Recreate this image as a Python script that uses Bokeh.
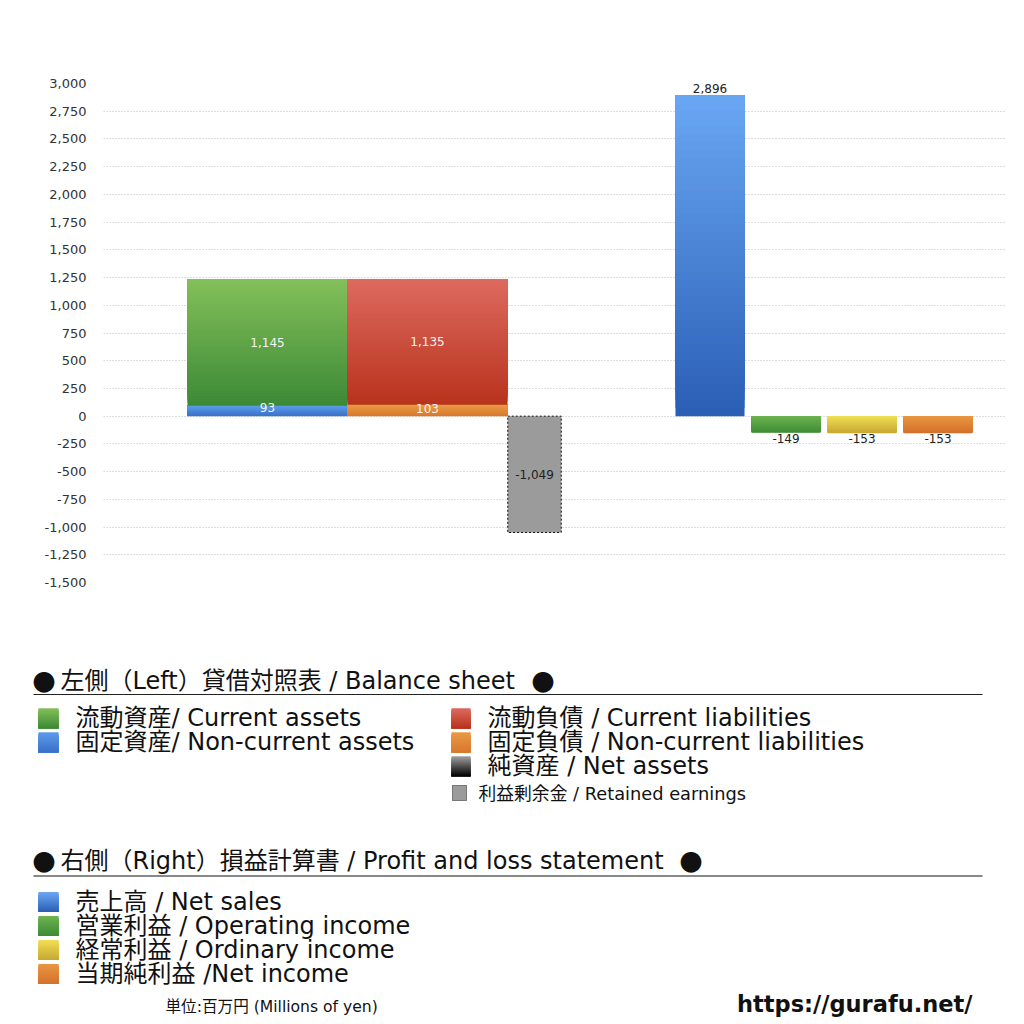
from bokeh.plotting import figure
from bokeh.models import Range1d, FixedTicker, NumeralTickFormatter
from bokeh.core.properties import value
from bokeh.embed import file_html
from bokeh.resources import INLINE

# ---------------- data ----------------
bs_categories = ["流動資産", "固定資産", "流動負債", "固定負債", "利益剰余金"]
current_assets = 1145
noncurrent_assets = 93
current_liabilities = 1135
noncurrent_liabilities = 103
retained_earnings = -1049

pl_categories = ["売上高", "営業利益", "経常利益", "当期純利益"]
pl_values = [2896, -149, -153, -153]

y_ticks = [-1500, -1250, -1000, -750, -500, -250, 0, 250, 500, 750, 1000,
           1250, 1500, 1750, 2000, 2250, 2500, 2750, 3000]

bs_left_labels = ["流動資産/ Current assets", "固定資産/ Non-current assets"]
bs_right_labels = ["流動負債 /  Current liabilities", "固定負債 / Non-current liabilities",
                   "純資産 / Net assets"]
retained_label = "利益剰余金 / Retained earnings"
pl_labels = ["売上高 / Net sales", "営業利益 / Operating income",
             "経常利益 / Ordinary income", "当期純利益 /Net income"]
title_bs = "左側（Left）貸借対照表 / Balance sheet"
title_pl = "右側（Right）損益計算書 / Profit and loss statement"
bullet = "●"
unit_text = "単位:百万円 (Millions of yen)"
url_text = "https://gurafu.net/"

# ---------------- style ----------------
CJK = value("Noto Sans CJK JP")
MIX = value("DejaVu Sans, Noto Sans CJK JP")
G_GREEN = ("#84c05a", "#3c8936")
G_BLUE_S = ("#5c9ce9", "#3a70c8")
G_RED = ("#dd6a5f", "#b8331d")
G_ORANGE_S = ("#e99a44", "#d8782f")
G_SALES = ("#6aa7f3", "#2a5eb5")
G_OP = ("#6db350", "#3d8b36")
G_ORD = ("#f1de56", "#c7a731")
G_NI = ("#e99640", "#d4702c")
G_NET = ("#a0a0a0", "#000000")
GRAY = "#9b9b9b"


def _rgb(h):
    h = h.lstrip("#")
    return tuple(int(h[i:i + 2], 16) for i in (0, 2, 4))


def _mix(c_top, c_bot, f):
    a, b = _rgb(c_top), _rgb(c_bot)
    return "#%02x%02x%02x" % tuple(int(round(b[k] + (a[k] - b[k]) * f)) for k in range(3))


def gradient_quad(p, left, right, y0, y1, grad, n=40, flipped=False):
    lo, hi = min(y0, y1), max(y0, y1)
    c_top, c_bot = grad
    L, R, B, T, C = [], [], [], [], []
    for i in range(n):
        b = lo + (hi - lo) * i / n
        f = (i + 0.5) / n
        L.append(left); R.append(right); B.append(b); T.append(hi)
        C.append(_mix(c_bot, c_top, f) if flipped else _mix(c_top, c_bot, f))
    p.quad(left=L, right=R, bottom=B, top=T, fill_color=C, line_color=None)


# ---------------- chart ----------------
p = figure(width=1016, height=604, output_backend="svg", toolbar_location=None,
           x_range=Range1d(103, 1005), y_range=Range1d(-1500, 3000),
           min_border_left=103, min_border_right=11, min_border_top=83, min_border_bottom=22)
p.outline_line_color = None
p.background_fill_color = "white"
p.border_fill_color = "white"
p.xaxis.visible = False
p.xgrid.grid_line_color = None
p.ygrid.grid_line_color = "#bdbdbd"
p.ygrid.grid_line_dash = "1 2"
p.ygrid.grid_line_width = 1
p.yaxis.ticker = FixedTicker(ticks=y_ticks)
p.yaxis.formatter = NumeralTickFormatter(format="0,0")
p.yaxis.axis_line_color = None
p.yaxis.major_tick_line_color = None
p.yaxis.minor_tick_line_color = None
p.yaxis.major_label_standoff = 11
p.yaxis.major_label_text_font_size = "13px"
p.yaxis.major_label_text_color = "#333333"
p.yaxis.major_label_text_font = "DejaVu Sans"

# layout positions (x centre, width)
pos_assets, w_big = 267, 160
pos_liab = 427
pos_ret, w_ret = 534, 53.5
pos_pl = [709.5, 785.5, 861.5, 937.5]
w_pl = 69

# balance sheet bars
gradient_quad(p, pos_assets - w_big / 2, pos_assets + w_big / 2, 0, noncurrent_assets, G_BLUE_S)
gradient_quad(p, pos_assets - w_big / 2, pos_assets + w_big / 2, noncurrent_assets,
              noncurrent_assets + current_assets, G_GREEN)
gradient_quad(p, pos_liab - w_big / 2, pos_liab + w_big / 2, 0, noncurrent_liabilities, G_ORANGE_S)
gradient_quad(p, pos_liab - w_big / 2, pos_liab + w_big / 2, noncurrent_liabilities,
              noncurrent_liabilities + current_liabilities, G_RED)
p.quad(left=[pos_ret - w_ret / 2], right=[pos_ret + w_ret / 2], bottom=[retained_earnings], top=[0],
       fill_color=GRAY, line_color="#111111", line_dash="2 2", line_width=1)

# P&L bars
for xc, v, g in zip(pos_pl, pl_values, [G_SALES, G_OP, G_ORD, G_NI]):
    gradient_quad(p, xc - w_pl / 2, xc + w_pl / 2, 0, v, g)

NUM = dict(text_font=value("DejaVu Sans"), text_font_size="12px", text_align="center")
# labels inside bars
p.text(x=[pos_assets, pos_liab], y=[noncurrent_assets + current_assets / 2,
                                    noncurrent_liabilities + current_liabilities / 2],
       text=[f"{current_assets:,}", f"{current_liabilities:,}"],
       text_color="#f4f4f4", text_baseline="middle", **NUM)
p.text(x=[pos_assets, pos_liab], y=[noncurrent_assets * 0.8, noncurrent_liabilities * 0.7],
       text=[f"{noncurrent_assets:,}", f"{noncurrent_liabilities:,}"],
       text_color="#f4f4f4", text_baseline="middle", **NUM)
p.text(x=[pos_ret], y=[retained_earnings / 2], text=[f"{retained_earnings:,}"],
       text_color="#222222", text_baseline="middle", **NUM)

pos_x = [x for x, v in zip(pos_pl, pl_values) if v >= 0]
pos_v = [v for v in pl_values if v >= 0]
neg_x = [x for x, v in zip(pos_pl, pl_values) if v < 0]
neg_v = [v for v in pl_values if v < 0]
p.text(x=pos_x, y=pos_v, text=[f"{v:,}" for v in pos_v], text_color="#222222",
       text_baseline="bottom", y_offset=-2, **NUM)
p.text(x=neg_x, y=neg_v, text=[f"{v:,}" for v in neg_v], text_color="#222222",
       text_baseline="top", y_offset=1, **NUM)

# ---------------- legend panel ----------------
q = figure(width=1016, height=416, output_backend="svg", toolbar_location=None,
           x_range=Range1d(0, 1016), y_range=Range1d(1020, 604),
           min_border_left=0, min_border_right=0, min_border_top=0, min_border_bottom=0)
q.axis.visible = False
q.grid.grid_line_color = None
q.outline_line_color = None
q.background_fill_color = "white"
q.border_fill_color = "white"

TXT = dict(text_font=MIX, text_color="#111111", text_baseline="middle", text_align="left")
BUL = dict(text_font=CJK, text_color="#111111", text_baseline="middle", text_align="left",
           text_font_size="23px")

# Balance sheet section
q.text(x=[32, 531], y=[680, 680], text=[bullet, bullet], **BUL)
q.text(x=[60], y=[680], text=[title_bs], text_font_size="24px", **TXT)
q.segment(x0=[33], y0=[694], x1=[982], y1=[694], line_color="#222222", line_width=1.2)

row_h = 24
for i, (lab, g) in enumerate(zip(bs_left_labels, [G_GREEN, G_BLUE_S])):
    top = 707.7 + i * row_h
    gradient_quad(q, 38, 58, top, top + 20, g, n=20, flipped=True)
    q.text(x=[75], y=[top + 10], text=[lab], text_font_size="24px", **TXT)
for i, (lab, g) in enumerate(zip(bs_right_labels, [G_RED, G_ORANGE_S, G_NET])):
    top = 707.7 + i * row_h
    gradient_quad(q, 451, 470, top, top + 20, g, n=20, flipped=True)
    q.text(x=[487], y=[top + 10], text=[lab], text_font_size="24px", **TXT)
q.quad(left=[452], right=[466], top=[785], bottom=[800], fill_color=GRAY,
       line_color="#222222", line_dash="1 1", line_width=1)
q.text(x=[478], y=[793], text=[retained_label], text_font_size="17.8px", **TXT)

# P&L section
q.text(x=[32, 679], y=[860, 860], text=[bullet, bullet], **BUL)
q.text(x=[60], y=[860], text=[title_pl], text_font_size="24px", **TXT)
q.segment(x0=[33], y0=[875.5], x1=[982], y1=[875.5], line_color="#888888", line_width=2)
for i, (lab, g) in enumerate(zip(pl_labels, [G_SALES, G_OP, G_ORD, G_NI])):
    top = 891.5 + i * row_h
    gradient_quad(q, 38, 58, top, top + 20, g, n=20, flipped=True)
    q.text(x=[75], y=[top + 10], text=[lab], text_font_size="24px", **TXT)

q.text(x=[165], y=[1006], text=[unit_text], text_font_size="15.6px", **TXT)
q.text(x=[972], y=[1003], text=[url_text], text_font=value("DejaVu Sans"), text_font_size="22.5px",
       text_font_style="bold", text_color="#111111", text_align="right", text_baseline="middle")

open("out.html", "w").write(file_html([p, q], INLINE))
